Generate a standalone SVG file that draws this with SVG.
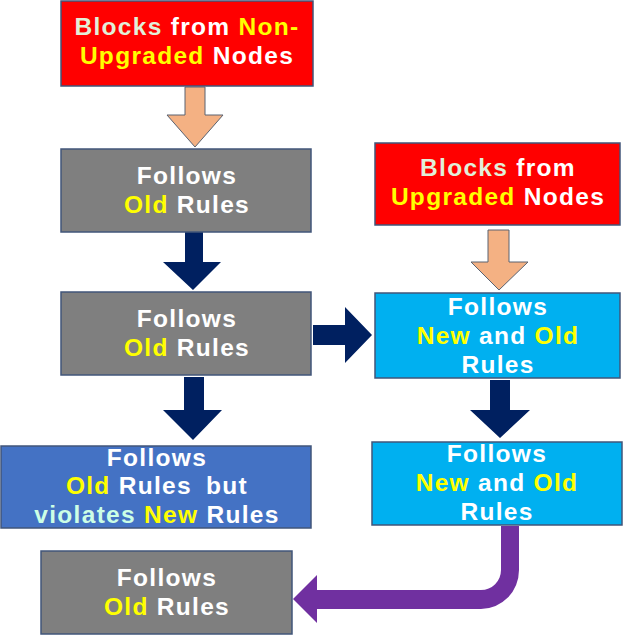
<svg xmlns="http://www.w3.org/2000/svg" width="626" height="636" viewBox="0 0 626 636">
<style>
.box{stroke:#41567a;stroke-width:1.5}
.red{fill:#FF0000}
.gray{fill:#7F7F7F}
.blue{fill:#4472C4}
.cyan{fill:#00B0F0}
text{font-family:"Liberation Sans",Arial,sans-serif;font-weight:bold;font-size:24.5px;letter-spacing:1.3px;text-anchor:middle;fill:#FFFFFF}
.y{fill:#FFFF00}
.g{fill:#E2F0D9}
.v{fill:#CCFFE6}
.peach{fill:#F4B183;stroke:#5a6270;stroke-width:1}
.navy{fill:#002060}
.purple{fill:#7030A0}
</style>
<rect width="626" height="636" fill="#FFFFFF"/>
<g id="connectors">
<polygon class="peach" points="185,87 205,87 205,115 223,115 195,147 167,115 185,115"/>
<polygon class="navy" points="185,232 203,232 203,262 221,262 193,290 163,262 185,262"/>
<polygon class="navy" points="313,325 345,325 345,307 372,335 345,363 345,345 313,345"/>
<polygon class="navy" points="184,377 204,377 204,410 222,410 193,440 163,410 184,410"/>
<polygon class="peach" points="488,230 509,230 509,262 528,262 499,290 471,262 488,262"/>
<polygon class="navy" points="490,380 510,380 510,410 530,410 500,438 470,410 490,410"/>
<path class="purple" d="M501,526 L501,570 A20,20 0 0 1 481,590 L317,590 L317,575 L293,599 L317,623 L317,609 L481,609 A38,39 0 0 0 519,570 L519,526 Z"/>
</g>
<g id="node-nonupgraded">
<rect class="box red" x="61" y="1" width="252" height="85"/>
<text x="187" y="35"><tspan class="g">Blocks</tspan> from <tspan class="y">Non-</tspan></text>
<text x="187" y="64"><tspan class="y">Upgraded</tspan> Nodes</text>
</g>
<g id="node-old1">
<rect class="box gray" x="61" y="149" width="250" height="83"/>
<text x="187" y="184">Follows</text>
<text x="187" y="213"><tspan class="y">Old</tspan> Rules</text>
</g>
<g id="node-old2">
<rect class="box gray" x="61" y="292" width="250" height="83"/>
<text x="187" y="327">Follows</text>
<text x="187" y="356"><tspan class="y">Old</tspan> Rules</text>
</g>
<g id="node-violates">
<rect class="box blue" x="1" y="446" width="310" height="82"/>
<text x="157" y="466">Follows</text>
<text x="157" y="494"><tspan class="y">Old</tspan> Rules <tspan dx="6">but</tspan></text>
<text x="157" y="523"><tspan class="v">violates</tspan> <tspan class="y">New</tspan> Rules</text>
</g>
<g id="node-upgraded">
<rect class="box red" x="375" y="143" width="245" height="82"/>
<text x="498" y="176"><tspan class="g">Blocks</tspan> from</text>
<text x="498" y="205"><tspan class="y">Upgraded</tspan> Nodes</text>
</g>
<g id="node-newold1">
<rect class="box cyan" x="375" y="293" width="245" height="85"/>
<text x="498" y="315">Follows</text>
<text x="498" y="344"><tspan class="y">New</tspan> and <tspan class="y">Old</tspan></text>
<text x="498" y="373">Rules</text>
</g>
<g id="node-newold2">
<rect class="box cyan" x="372" y="442" width="250" height="83"/>
<text x="497" y="462">Follows</text>
<text x="497" y="491"><tspan class="y">New</tspan> and <tspan class="y">Old</tspan></text>
<text x="497" y="520">Rules</text>
</g>
<g id="node-old3">
<rect class="box gray" x="41" y="551" width="251" height="83"/>
<text x="167" y="586">Follows</text>
<text x="167" y="615"><tspan class="y">Old</tspan> Rules</text>
</g>
</svg>
